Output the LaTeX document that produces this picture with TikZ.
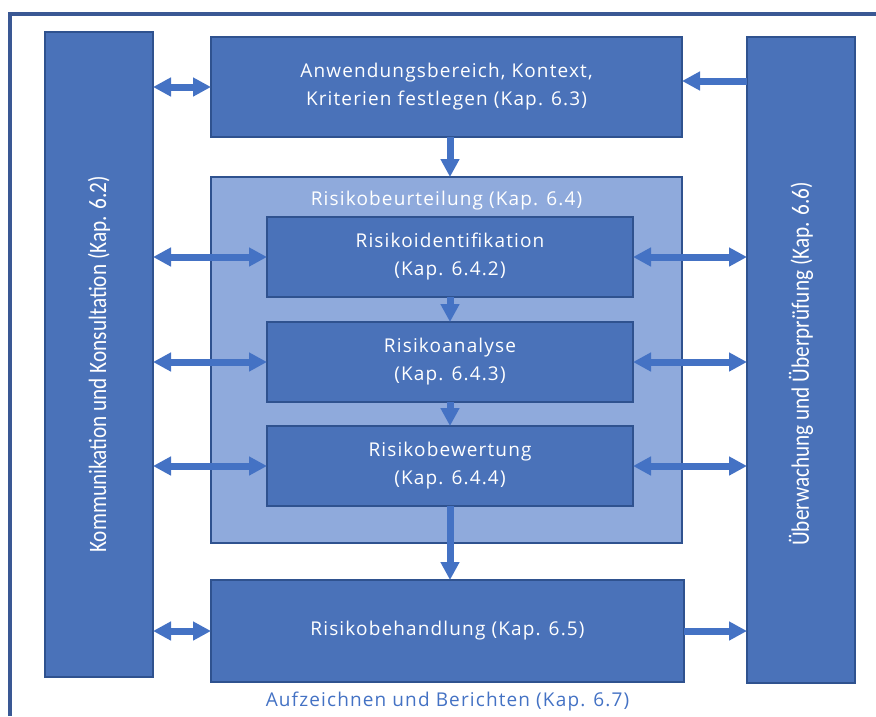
\documentclass[tikz,border=0pt]{standalone}
\usepackage{fontspec}
\setmainfont{Open Sans}
\newfontfamily\boxfont[LetterSpace=6]{Open Sans}
\newfontfamily\narrowfont[FakeStretch=0.85]{Carlito}
\usetikzlibrary{arrows.meta, positioning}

\definecolor{boxblue}{HTML}{4A72B9}
\definecolor{boxline}{HTML}{2F528F}
\definecolor{lightblue}{HTML}{8FAADC}
\definecolor{arrowblue}{HTML}{4472C4}
\definecolor{framecol}{HTML}{3A5894}

\tikzset{
    box/.style={draw=boxline, fill=boxblue, line width=1.2pt,
        text=white, align=center, outer sep=0pt, inner sep=0pt,
        font=\boxfont\fontsize{19}{28}\selectfont},
    sidebox/.style={box},
    sidetext/.style={text=white, rotate=90,
        font=\narrowfont\fontsize{25}{28}\selectfont},
    blockarrow/.style={draw=arrowblue, line width=7pt,
        -{Triangle[width=18pt,length=18pt]}},
    dblarrow/.style={blockarrow,
        {Triangle[width=18pt,length=18pt]}-{Triangle[width=18pt,length=18pt]}}
}

\begin{document}
\begin{tikzpicture}[x=1pt, y=-1pt]
\useasboundingbox (0,0) rectangle (876,716);

% frame round everything
\draw[framecol, line width=4.5pt] (876,14) -- (10,14) -- (10,716);

\node[box,
    minimum width=471pt,
    minimum height=100pt] (scope) at (446.5,87)
    {Anwendungsbereich, Kontext,\\Kriterien festlegen (Kap. 6.3)};

\node[draw=boxline,
    fill=lightblue,
    line width=1.2pt,
    outer sep=0pt,
    below=40pt of scope,
    minimum width=471pt,
    minimum height=366pt] (assess) {};

\node[text=white,
    font=\boxfont\fontsize{19}{24}\selectfont,
    below=11pt of assess.north] (assess_title) {Risikobeurteilung (Kap. 6.4)};

\node[box,
    below=40pt of assess.north,
    anchor=north,
    xshift=3.5pt,
    minimum width=366pt,
    minimum height=80pt] (ident) {Risikoidentifikation\\(Kap. 6.4.2)};

\node[box,
    below=25pt of ident,
    minimum width=366pt,
    minimum height=80pt] (analyse) {Risikoanalyse\\(Kap. 6.4.3)};

\node[box,
    below=24pt of analyse,
    minimum width=366pt,
    minimum height=80pt] (evaluate) {Risikobewertung\\(Kap. 6.4.4)};

\node[box,
    below=37pt of assess,
    xshift=1pt,
    minimum width=473pt,
    minimum height=102pt] (treat) {Risikobehandlung (Kap. 6.5)};

\node[sidebox,
    minimum width=108pt,
    minimum height=645pt] (comm) at (99,354.5) {};
\node[sidetext] (comm_text) at ([yshift=-10pt]comm.center)
    {Kommunikation und Konsultation (Kap. 6.2)};

\node[sidebox,
    minimum width=108pt,
    minimum height=646pt] (monitor) at (801,360) {};
\node[sidetext] (monitor_text) at ([yshift=-4pt]monitor.center)
    {Überwachung und Überprüfung (Kap. 6.6)};

\draw[blockarrow] (scope.south -| ident.north) -- (assess.north -| ident.north);
\draw[blockarrow] (ident) -- (analyse);
\draw[blockarrow] (analyse) -- (evaluate);
\draw[blockarrow] (evaluate.south) -- (evaluate.south |- treat.north);

\draw[dblarrow] (comm.east |- scope.west) -- (scope.west);
\draw[dblarrow] (comm.east |- ident.west) -- (ident.west);
\draw[dblarrow] (comm.east |- analyse.west) -- (analyse.west);
\draw[dblarrow] (comm.east |- evaluate.west) -- (evaluate.west);
\draw[dblarrow] (comm.east |- treat.west) -- (treat.west);

\draw[blockarrow] ([yshift=6pt]monitor.west |- scope.east) -- ([yshift=6pt]scope.east);
\draw[dblarrow] (ident.east) -- (monitor.west |- ident.east);
\draw[dblarrow] (analyse.east) -- (monitor.west |- analyse.east);
\draw[dblarrow] (evaluate.east) -- (monitor.west |- evaluate.east);
\draw[blockarrow] (treat.east) -- (monitor.west |- treat.east);

\node[text=arrowblue,
    font=\boxfont\fontsize{19}{24}\selectfont,
    below=6pt of treat] (report) {Aufzeichnen und Berichten (Kap. 6.7)};

\end{tikzpicture}
\end{document}
